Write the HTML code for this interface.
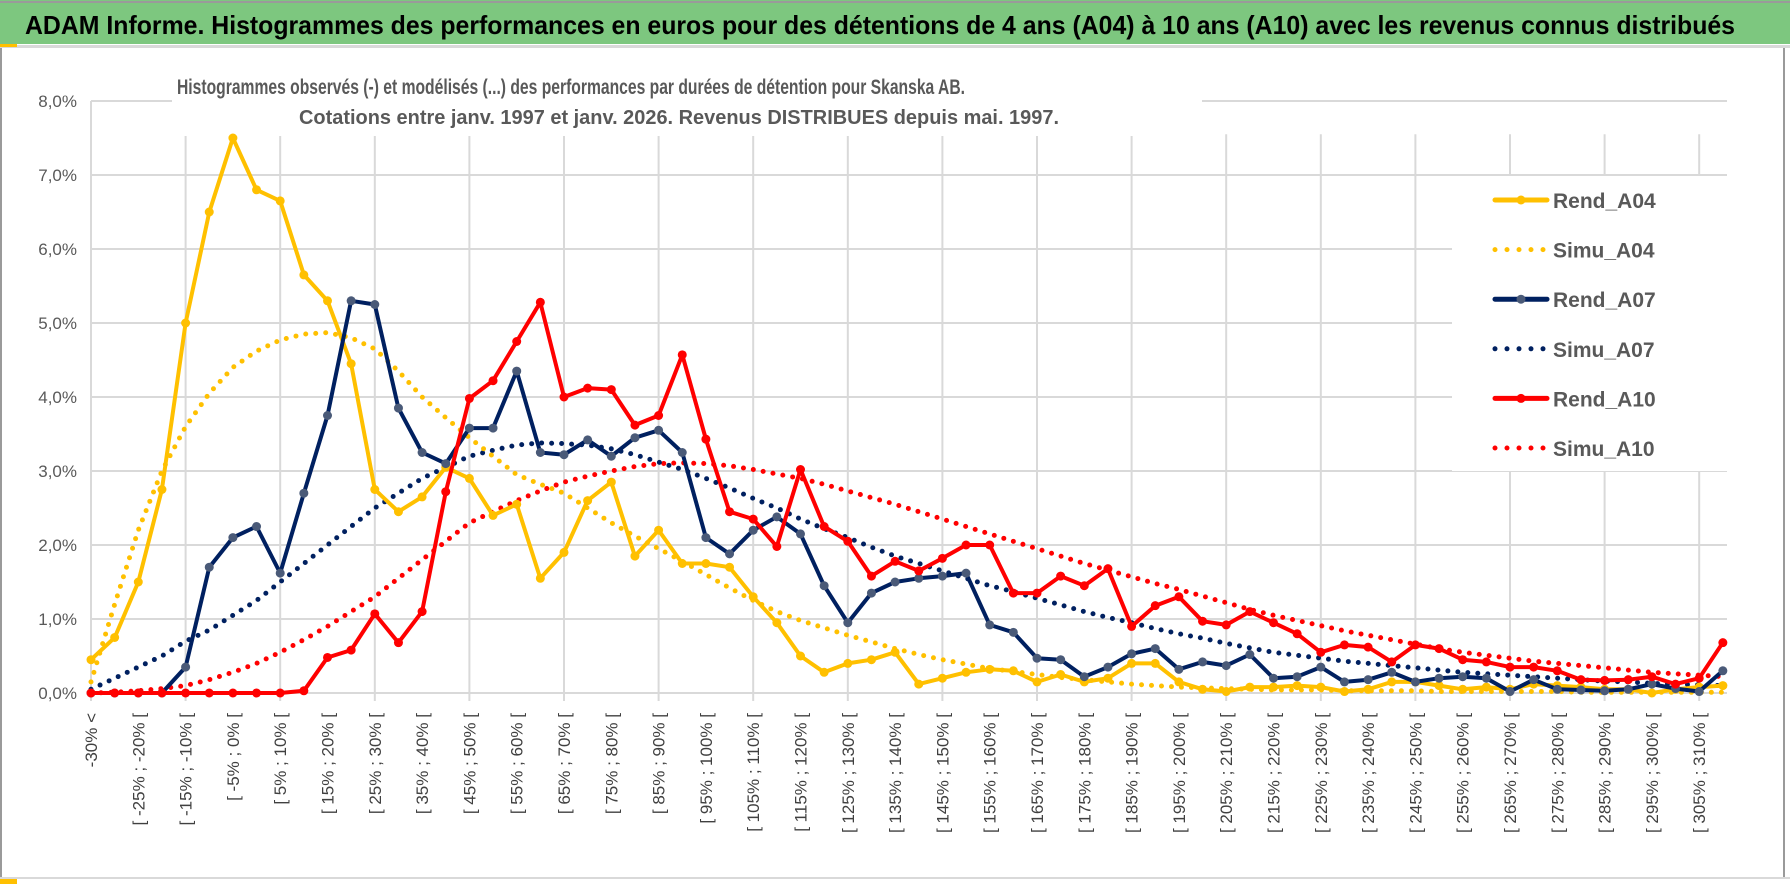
<!DOCTYPE html>
<html><head><meta charset="utf-8"><style>
body{margin:0;background:#fff;width:1790px;height:888px;overflow:hidden}
svg{display:block;font-family:"Liberation Sans",sans-serif}
</style></head><body>
<svg id="chart" width="1790" height="888" viewBox="0 0 1790 888">
<rect x="0" y="0" width="1790" height="888" fill="#fff"/>
<rect x="0" y="0" width="1790" height="44" fill="#7dc77f"/>
<rect x="0" y="1" width="1790" height="2" fill="#9a9a9a"/>
<rect x="0" y="45" width="1790" height="3" fill="#d9d9d9"/>
<rect x="0" y="44" width="17" height="3" fill="#ffc000"/>
<text x="25" y="34" font-size="26" font-weight="bold" fill="#000" textLength="1710" lengthAdjust="spacingAndGlyphs">ADAM Informe. Histogrammes des performances en euros pour des détentions de 4 ans (A04) à 10 ans (A10) avec les revenus connus distribués</text>
<line x1="1" y1="48" x2="1" y2="878" stroke="#9a9a9a" stroke-width="2"/>
<line x1="1784" y1="48" x2="1784" y2="878" stroke="#9a9a9a" stroke-width="2"/>
<line x1="0" y1="878" x2="1790" y2="878" stroke="#d9d9d9" stroke-width="2"/>
<rect x="0" y="879" width="17" height="5" fill="#ffc000"/>
<g id="grid"></g>
<g id="yticks"></g>
<g id="xticks"></g>
<rect x="172" y="92" width="1030" height="44" fill="#fff"/>
<text x="177" y="94" font-size="21" font-weight="bold" fill="#595959" textLength="788" lengthAdjust="spacingAndGlyphs">Histogrammes observés (-) et modélisés (...) des performances par durées de détention pour Skanska AB.</text>
<text x="299" y="124" font-size="20" font-weight="bold" fill="#595959" textLength="760" lengthAdjust="spacingAndGlyphs">Cotations entre janv. 1997 et janv. 2026. Revenus DISTRIBUES depuis mai. 1997.</text>
<g id="series"></g>
<rect x="1452" y="176" width="275" height="295" fill="#fff"/>
<g id="legend"></g>
</svg>
<script>
const rendA04=[0.45,0.75,1.5,2.75,5.0,6.5,7.5,6.8,6.65,5.65,5.3,4.45,2.75,2.45,2.65,3.05,2.9,2.4,2.55,1.55,1.9,2.6,2.85,1.85,2.2,1.75,1.75,1.7,1.3,0.95,0.5,0.28,0.4,0.45,0.55,0.12,0.2,0.28,0.32,0.3,0.15,0.25,0.15,0.2,0.4,0.4,0.15,0.05,0.02,0.08,0.08,0.1,0.08,0.02,0.05,0.15,0.15,0.1,0.05,0.08,0.05,0.12,0.1,0.08,0.05,0.05,0.0,0.05,0.08,0.1];
const simuA04=[0.15,1.2,2.2,3.0,3.6,4.05,4.4,4.62,4.77,4.85,4.87,4.8,4.65,4.35,4.0,3.72,3.45,3.2,2.95,2.82,2.7,2.5,2.3,2.12,1.95,1.78,1.6,1.42,1.25,1.1,0.98,0.88,0.78,0.69,0.6,0.52,0.45,0.39,0.33,0.29,0.25,0.21,0.18,0.15,0.12,0.1,0.08,0.07,0.06,0.05,0.04,0.04,0.04,0.03,0.03,0.03,0.03,0.02,0.02,0.02,0.02,0.02,0.02,0.01,0.01,0.01,0.01,0.01,0.01,0.01];
const rendA07=[0,0,0,0,0.35,1.7,2.1,2.25,1.62,2.7,3.75,5.3,5.25,3.85,3.25,3.1,3.58,3.58,4.35,3.25,3.22,3.42,3.2,3.45,3.55,3.25,2.1,1.88,2.2,2.38,2.15,1.45,0.95,1.35,1.5,1.55,1.58,1.62,0.92,0.82,0.47,0.45,0.22,0.35,0.53,0.6,0.32,0.42,0.37,0.52,0.2,0.22,0.35,0.15,0.18,0.28,0.15,0.2,0.22,0.2,0.02,0.18,0.05,0.04,0.03,0.05,0.12,0.06,0.02,0.3];
const simuA07=[0.05,0.2,0.35,0.5,0.7,0.85,1.05,1.25,1.5,1.75,2.0,2.25,2.5,2.7,2.9,3.05,3.2,3.28,3.35,3.38,3.37,3.35,3.3,3.22,3.12,3.02,2.9,2.77,2.63,2.5,2.35,2.22,2.1,1.97,1.85,1.75,1.65,1.55,1.45,1.37,1.28,1.19,1.1,1.02,0.95,0.87,0.8,0.74,0.67,0.61,0.55,0.51,0.47,0.43,0.4,0.37,0.34,0.31,0.28,0.26,0.24,0.22,0.2,0.18,0.16,0.15,0.13,0.12,0.11,0.1];
const rendA10=[0,0,0,0,0,0,0,0,0,0.03,0.48,0.58,1.07,0.68,1.1,2.72,3.98,4.22,4.75,5.28,4.0,4.12,4.1,3.62,3.75,4.57,3.43,2.45,2.35,1.98,3.02,2.25,2.05,1.58,1.78,1.65,1.82,2.0,2.0,1.35,1.35,1.58,1.45,1.68,0.9,1.18,1.3,0.97,0.92,1.1,0.95,0.8,0.55,0.65,0.62,0.42,0.65,0.6,0.45,0.42,0.35,0.35,0.3,0.18,0.17,0.18,0.22,0.12,0.2,0.68];
const simuA10=[0,0.01,0.03,0.06,0.1,0.18,0.28,0.4,0.55,0.72,0.9,1.1,1.3,1.55,1.8,2.05,2.3,2.45,2.6,2.73,2.85,2.93,3.0,3.06,3.1,3.11,3.1,3.07,3.02,2.96,2.9,2.82,2.73,2.64,2.55,2.45,2.35,2.25,2.15,2.05,1.95,1.85,1.75,1.66,1.57,1.48,1.4,1.31,1.22,1.13,1.05,0.98,0.91,0.84,0.78,0.72,0.66,0.6,0.55,0.51,0.47,0.43,0.4,0.37,0.34,0.31,0.28,0.26,0.24,0.22];
const yTicks=[0,1,2,3,4,5,6,7,8];
const nCat=70;

const NS="http://www.w3.org/2000/svg";
const X0=91,DX=23.65,Y0=693,YS=74.0,XR=1727;
const xs=i=>X0+i*DX, ys=v=>Y0-v*YS;
function mk(tag,attrs,parent){const e=document.createElementNS(NS,tag);for(const k in attrs)e.setAttribute(k,attrs[k]);parent.appendChild(e);return e;}
function catLabel(i){if(i===0)return "-30% <";const a=-30+5*(i-1),b=a+5;return "[ "+a+"% ; "+b+"% [";}

const grid=document.getElementById('grid');
yTicks.forEach(t=>{const l=mk('line',{x1:X0,x2:XR,y1:ys(t),y2:ys(t),stroke:'#d9d9d9','stroke-width':2},grid);

});
for(let i=0;i<nCat;i+=4){const l=mk('line',{x1:xs(i),x2:xs(i),y1:ys(7.55),y2:ys(0)+8,stroke:'#d9d9d9','stroke-width':2},grid);

}
mk('line',{x1:X0,x2:X0,y1:ys(8),y2:ys(0)+8,stroke:'#d9d9d9','stroke-width':2},grid);

const yt=document.getElementById('yticks');
yTicks.forEach(t=>{const e=mk('text',{x:77,y:ys(t)+6,'font-size':17,fill:'#595959','text-anchor':'end'},yt);e.textContent=t.toFixed(1).replace('.',',')+'%';

});

const xt=document.getElementById('xticks');
for(let i=0;i<nCat;i+=2){const x=xs(i)+6,y=713;const e=mk('text',{x:x,y:y,'font-size':17,fill:'#404040','text-anchor':'end',transform:`rotate(-90 ${x} ${y})`},xt);e.textContent=catLabel(i);

}

const ser=document.getElementById('series');
function pts(arr){return arr.map((v,i)=>xs(i).toFixed(1)+','+ys(v).toFixed(1)).join(' ');}
function dotted(arr,color,name){const p=mk('polyline',{points:pts(arr),fill:'none',stroke:color,'stroke-width':5,'stroke-linecap':'round','stroke-dasharray':'0 10'},ser);

}
function solid(arr,color,mcol,name){const g=mk('g',{},ser);


mk('polyline',{points:pts(arr),fill:'none',stroke:color,'stroke-width':4,'stroke-linejoin':'round'},g);
arr.forEach((v,i)=>{const c=mk('circle',{cx:xs(i),cy:ys(v),r:4.5,fill:mcol},g);

});}
dotted(simuA10,'#ff0000','simu-a10-line');
dotted(simuA07,'#002060','simu-a07-line');
dotted(simuA04,'#ffc000','simu-a04-line');
solid(rendA04,'#ffc000','#ffc000','rend-a04-line');
solid(rendA07,'#002060','#4a5a78','rend-a07-line');
solid(rendA10,'#ff0000','#ff0000','rend-a10-line');

const leg=document.getElementById('legend');
const legItems=[['Rend_A04','#ffc000',false,'#ffc000'],['Simu_A04','#ffc000',true],['Rend_A07','#002060',false,'#4a5a78'],['Simu_A07','#002060',true],['Rend_A10','#ff0000',false,'#ff0000'],['Simu_A10','#ff0000',true]];
legItems.forEach((it,k)=>{const y=200+k*49.6;const g=mk('g',{},leg);


if(it[2]){mk('line',{x1:1495,x2:1547,y1:y,y2:y,stroke:it[1],'stroke-width':5,'stroke-linecap':'round','stroke-dasharray':'0 12'},g);}
else{mk('line',{x1:1495,x2:1547,y1:y,y2:y,stroke:it[1],'stroke-width':5,'stroke-linecap':'round'},g);mk('circle',{cx:1521,cy:y,r:4.5,fill:it[3]},g);}
const t=mk('text',{x:1553,y:y+8,'font-size':21,'font-weight':'bold',fill:'#595959'},g);t.textContent=it[0];});
</script>
</body></html>
